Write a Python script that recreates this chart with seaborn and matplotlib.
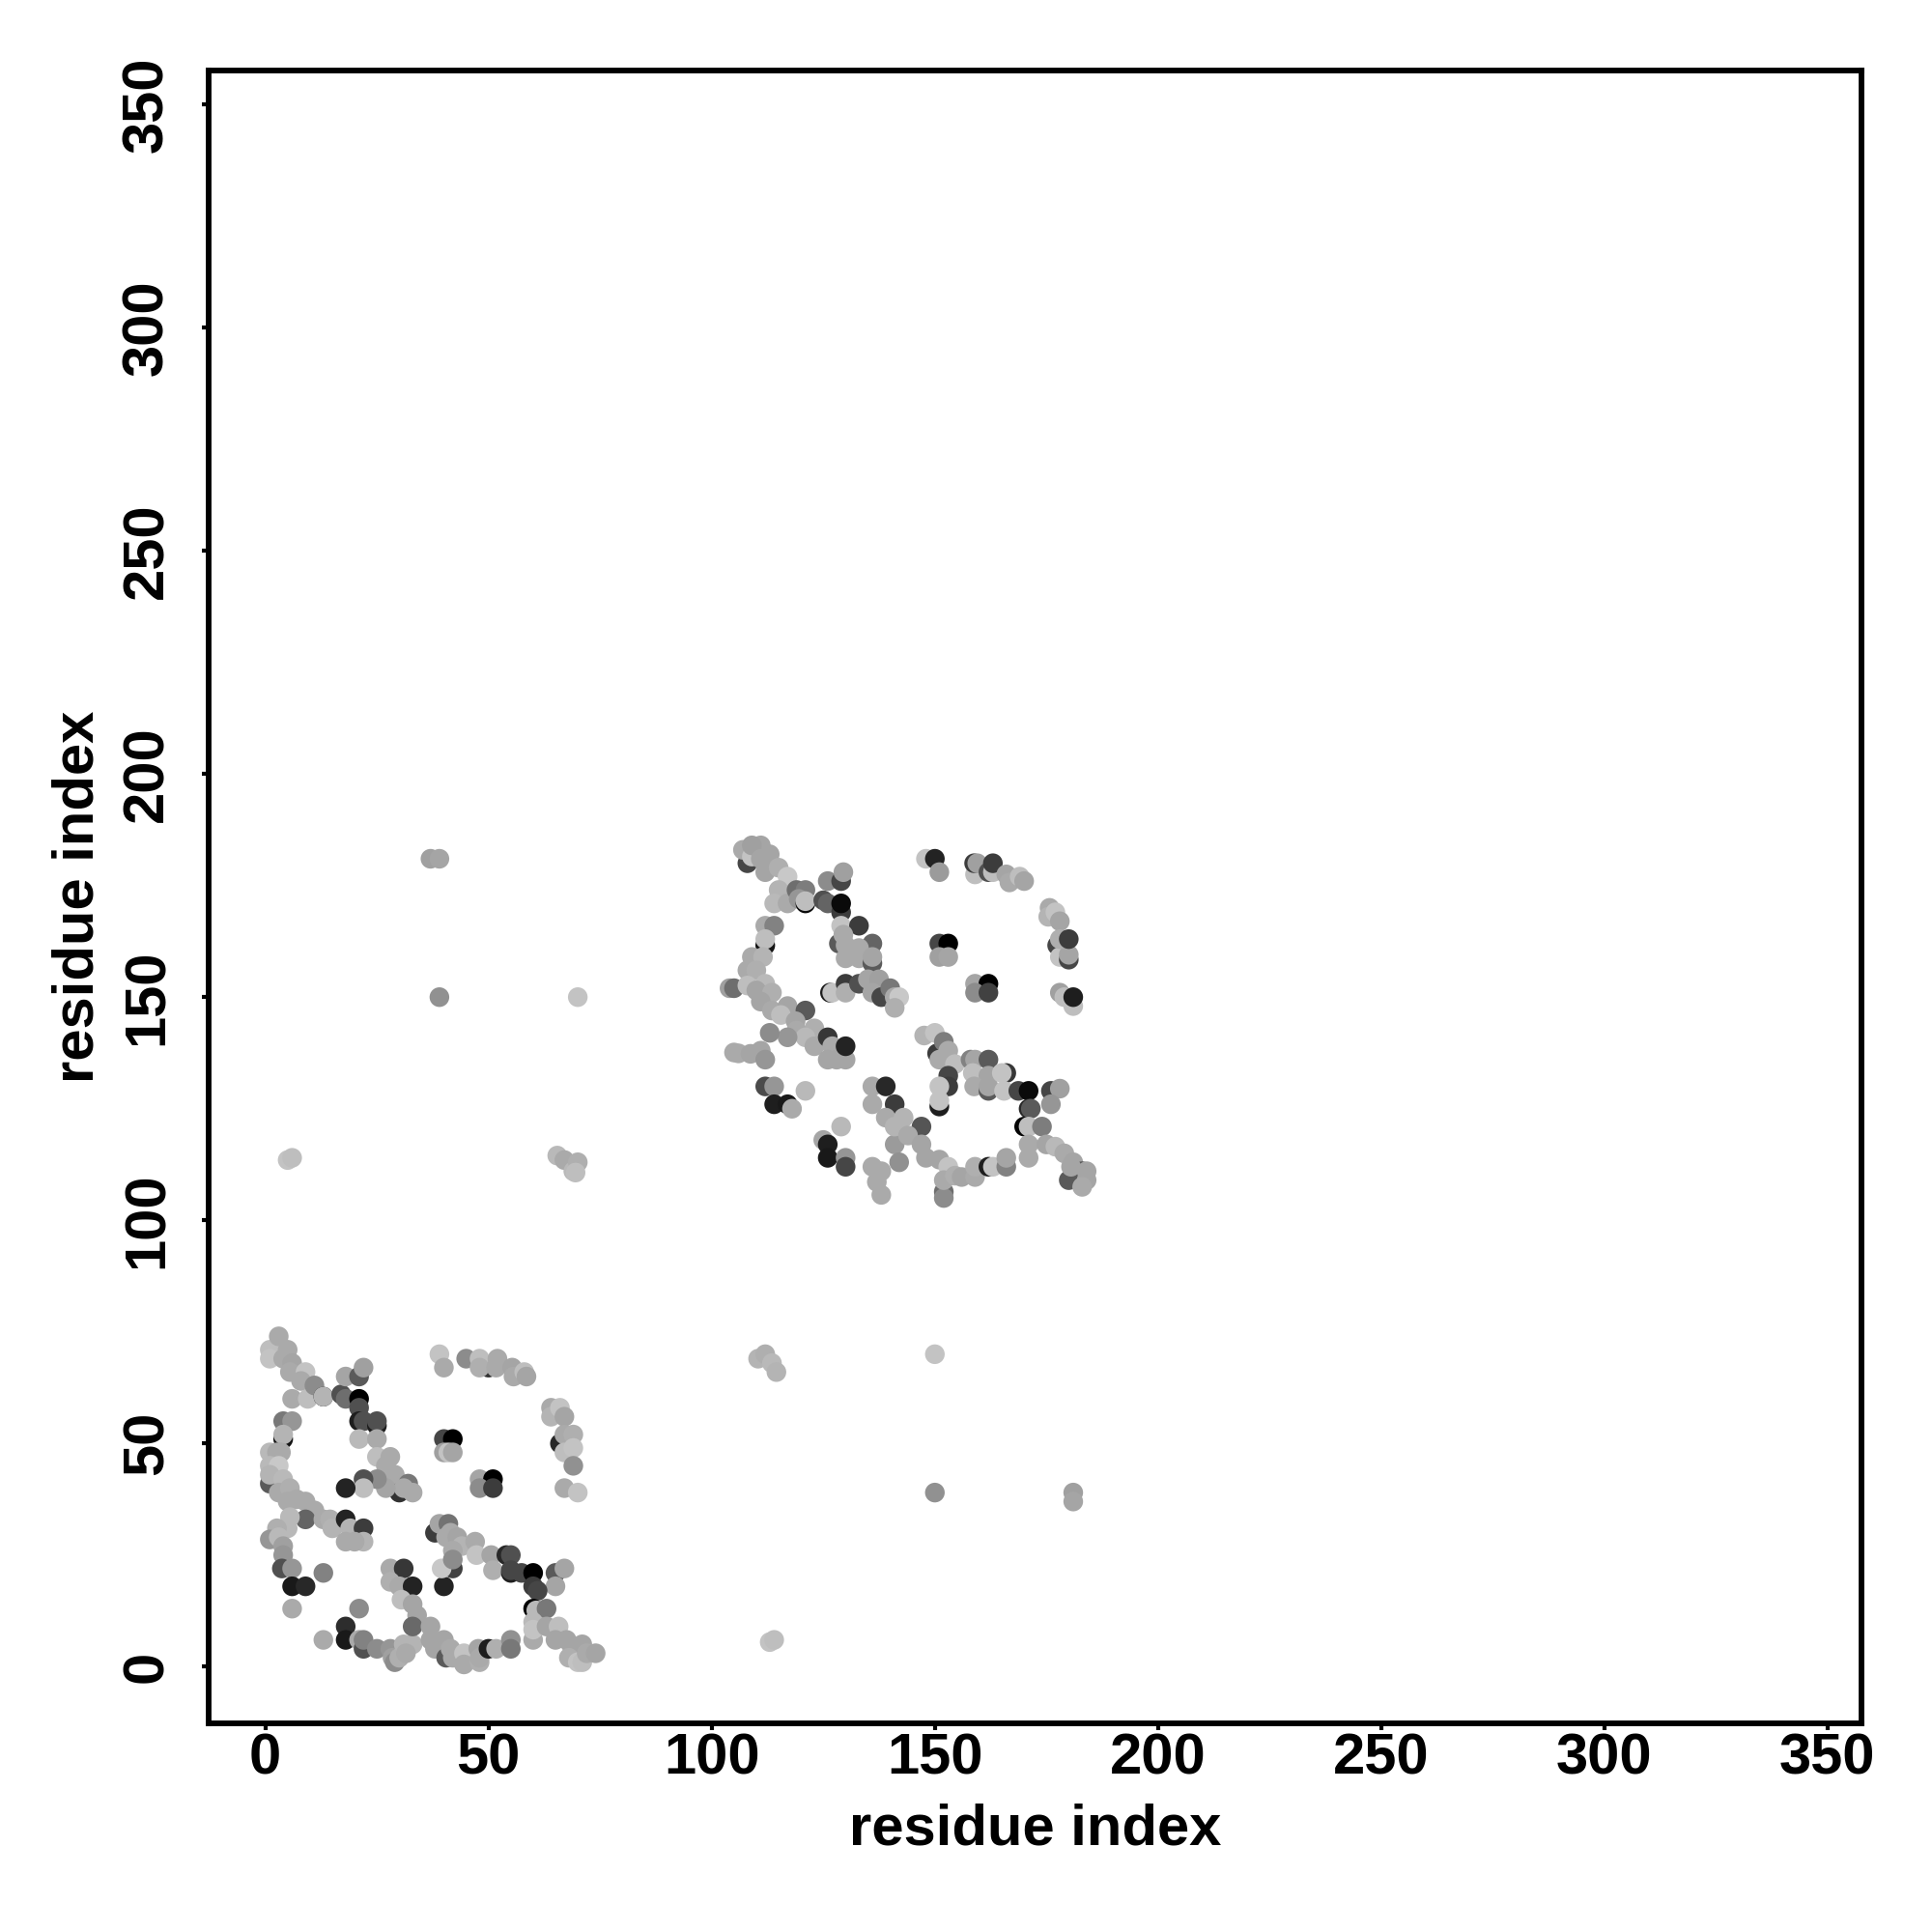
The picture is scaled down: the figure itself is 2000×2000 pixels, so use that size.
import matplotlib.pyplot as plt
import numpy as np
import seaborn as sns


# first domain against itself
LOWER_X = [1, 1, 1, 3, 5, 4, 6, 5.5, 9, 8, 6, 9.5, 11, 13, 13, 17, 18, 21, 18, 21,
           22, 21, 21, 22, 25, 25, 21, 25, 25, 28, 27, 27, 29, 32, 30, 33, 31, 27, 25, 22,
           22, 18, 4, 6, 4, 4, 1, 2.6, 3.5, 1, 3, 1, 4, 3, 5.5, 5, 9, 7, 11, 9,
           13, 14.5, 15, 18, 19, 22, 18, 22, 20, 5.5, 5, 2.6, 1, 3, 4, 4, 3.7, 6, 6, 9,
           13, 6, 21, 18, 18, 13, 21, 22, 22, 25, 28, 28.5, 29, 30, 31, 33, 31.5,
           28, 31, 28, 30, 33, 40, 42, 39.5, 30.5, 33, 34, 33, 37, 37, 40, 38, 40.5, 41.5, 42,
           44.5, 44.5, 47.7, 48, 48, 50, 51.7, 55, 55, 38, 39, 41, 41.5, 40.5, 43, 44, 47, 42,
           42, 47.3, 50.6, 51, 54, 55, 55, 55, 57.4, 60, 65, 67, 65, 60, 61, 60, 60.7, 63,
           60, 60, 60, 63, 65.7, 65, 67.5, 68.6, 71, 68, 70, 71, 72, 74,
           39, 40, 45, 50, 48, 48, 52, 51.7, 55.3, 55.6, 58, 58.5,
           66, 64, 64, 66, 67, 67, 69, 67, 69, 69, 67, 70,
           40, 42, 40, 41, 42, 48, 51, 48, 51]
LOWER_Y = [41, 71, 69, 74, 71, 69, 68, 66, 66, 64, 60, 60, 63, 60.5, 60.5, 61, 60, 60, 65, 65,
           67, 58, 55, 55, 54, 55, 51, 51, 47, 47, 45, 43, 43, 41, 39, 39, 40, 40, 42, 42,
           40, 40, 55, 55, 51, 52, 48, 48, 48, 45, 45, 43, 42, 39, 40, 37, 37, 37.5, 35, 33,
           33, 33, 31, 33, 31, 31, 28, 28, 28, 33.5, 31, 31, 28.5, 29, 27, 25, 22, 22, 18, 18,
           21, 13, 13, 9, 6, 6, 6, 4, 6, 4, 4, 2, 1, 2, 5, 5, 3,
           22, 22, 19, 18, 18, 18, 22, 22, 15, 14, 11.5, 9, 9, 6, 6, 4, 2, 4, 2,
           3, 0.5, 4, 1, 2, 4, 4, 6, 4, 30, 32, 32, 30, 29, 29, 27, 28, 26,
           24, 25, 25, 21.6, 25, 25, 21, 21.6, 21, 21, 21, 22, 18, 18, 17, 13, 12.6, 13,
           10, 6, 8.3, 9, 9, 6, 6, 4.7, 5, 2, 1, 1, 3, 3,
           70, 67, 69, 67, 69, 67, 69, 67, 67, 65, 66, 65,
           50, 58, 56, 58, 56, 52, 52, 48, 49, 45, 40, 39,
           51, 51, 48, 48, 48, 42, 42, 40, 40]
LOWER_SHADE = [90, 190, 195, 170, 170, 170, 165, 170, 195, 170, 170, 190, 140, 20, 180, 80, 110, 0, 165, 90,
               160, 80, 30, 80, 30, 80, 185, 170, 190, 170, 170, 170, 170, 120, 50, 170, 170, 165, 140, 80,
               190, 35, 120, 150, 20, 180, 185, 170, 170, 185, 200, 180, 185, 170, 175, 170, 170, 170, 170, 100,
               170, 175, 180, 35, 180, 60, 170, 180, 170, 185, 185, 175, 150, 185, 160, 150, 80, 150, 25, 40,
               130, 170, 140, 45, 25, 170, 170, 80, 130, 140, 150, 160, 140, 175, 180, 180, 170,
               170, 55, 175, 170, 35, 35, 65, 200, 190, 165, 165, 105, 165, 165, 165, 165, 90, 170, 170,
               195, 170, 165, 175, 170, 30, 175, 145, 120, 60, 165, 115, 170, 170, 165, 180, 170, 170,
               140, 195, 165, 175, 40, 80, 30, 70, 70, 0, 90, 165, 165, 60, 70, 0, 185, 120,
               185, 170, 195, 165, 190, 165, 165, 165, 165, 175, 195, 190, 170, 165,
               195, 170, 140, 50, 190, 175, 170, 170, 165, 170, 190, 165,
               40, 170, 180, 195, 165, 170, 175, 190, 195, 145, 170, 195,
               70, 0, 160, 195, 165, 165, 0, 140, 60]

# second domain against itself
UPPER_X = [108, 110, 107, 109, 111, 109, 111, 113, 112, 115, 117, 115, 114, 117, 119, 121, 119.5, 121, 121, 125,
           126, 129, 129, 126, 129, 129.5, 128.5, 129, 133, 129.5, 130, 136, 133, 130, 133, 136, 136, 126.5, 127, 130,
           130, 133, 135, 137.5, 136, 138, 140, 141, 142, 141,
           112, 114, 112, 112, 109, 111.5, 108, 110, 112, 104, 105, 108, 110, 113.5, 111, 113.5, 117, 121, 115.5, 118.8,
           123, 119, 121, 123, 117, 113, 126, 127, 126, 128, 130, 130,
           105, 106, 108.7, 111, 112, 112, 114, 114, 117, 118, 121, 129, 125, 126, 126, 130, 130,
           136, 138, 137, 138, 141, 142,
           136, 139, 136, 141, 139, 143, 141, 147, 144, 147, 148, 151, 153, 152, 152, 152, 154.5, 156, 159, 159,
           162, 163, 166, 166, 150.5, 147.6, 150, 152, 153, 151, 154.5, 153, 153, 151, 151, 151,
           158, 159, 162, 158.5, 162, 158.8, 162, 162, 166, 165, 165.5, 168.7, 171, 176, 178, 176, 171, 171.5, 170, 171,
           174, 171, 171, 175, 177, 179, 181, 180, 183, 184, 184, 183, 180.5,
           148, 150, 151, 159, 158.8, 159.5, 162, 163, 163, 166, 166.7, 169, 170,
           175.7, 175.4, 177, 178, 177.4, 178, 180, 180, 178, 180,
           178, 179, 181, 181,
           151, 153, 151, 153, 159, 162, 159, 162]
UPPER_Y = [180, 182.5, 183, 181.5, 184, 184, 181, 182, 178, 179, 177, 174, 171, 171, 174, 174, 172, 171, 171.5, 171.7,
           171, 169, 171, 176, 176, 178, 162, 166, 166, 164, 161.6, 162, 161, 158.7, 158.7, 157.6, 159, 151, 151, 153,
           151, 153, 154, 154, 151, 150, 152, 150, 150, 147.6,
           166, 166, 161.6, 163, 159, 159, 156, 156, 153, 152, 152, 152.6, 151.5, 151, 149, 147, 148, 147, 146, 144.6,
           143, 142.5, 141, 139, 141, 142, 141, 139, 136, 136, 136, 139,
           137.6, 137.4, 137.3, 138, 136, 130, 130, 126, 126, 125, 129, 121, 118, 117, 114, 114, 112,
           112, 111, 108.6, 105.7, 117, 113,
           130, 130, 126, 126, 123, 123, 121, 121, 119, 117, 114, 113.6, 112, 106.4, 105, 109, 110, 109.7, 109.7, 112,
           112, 112, 112, 114, 137.4, 141.4, 142, 140, 138, 136, 135, 132.4, 130, 130, 125.5, 126.8,
           136, 136, 136, 133, 132.4, 130, 129, 130, 133, 133, 129, 129, 129, 129, 129.5, 126, 125, 125, 121, 121,
           121, 117, 114, 117, 116.5, 115, 113, 109, 111, 111, 109, 107.5, 112,
           181, 181, 178, 177.5, 180, 180, 178, 178, 180, 177.5, 175.7, 177, 176,
           170, 168, 169, 167, 161.6, 159, 158.4, 159.5, 163, 163,
           151, 150, 148, 150,
           162, 162, 159, 159, 153, 153, 151, 151]
UPPER_SHADE = [70, 80, 170, 195, 165, 160, 165, 165, 165, 175, 200, 180, 185, 170, 110, 125, 150, 10, 190, 80,
               100, 60, 10, 140, 70, 160, 90, 195, 60, 170, 170, 100, 170, 170, 170, 90, 165, 30, 195, 60,
               175, 80, 165, 160, 165, 70, 120, 170, 200, 175,
               170, 130, 20, 190, 170, 180, 170, 175, 185, 160, 110, 190, 165, 175, 165, 170, 165, 90, 190, 165,
               175, 170, 185, 170, 150, 140, 55, 170, 165, 165, 165, 35,
               170, 170, 165, 165, 150, 75, 150, 30, 25, 170, 185, 185, 165, 30, 25, 150, 70,
               170, 170, 170, 170, 155, 145,
               170, 40, 170, 60, 170, 180, 180, 85, 170, 165, 165, 165, 195, 110, 140, 170, 175, 165, 170, 175,
               30, 195, 130, 165, 60, 180, 195, 125, 170, 170, 190, 70, 60, 195, 30, 195,
               130, 165, 90, 190, 165, 170, 90, 165, 55, 195, 195, 70, 10, 70, 160, 150, 40, 90, 5, 190,
               125, 170, 170, 165, 185, 170, 165, 90, 90, 165, 165, 170, 165,
               195, 35, 155, 190, 60, 160, 80, 190, 60, 165, 170, 190, 165,
               170, 180, 195, 165, 70, 195, 70, 165, 175, 60,
               160, 190, 190, 30,
               70, 0, 160, 165, 165, 0, 140, 65]

# the few contacts between the two domains
CROSS_X = [37, 39, 39, 70, 5, 6, 65.4, 67, 69, 70, 69.5, 110.4, 112, 113.5, 114.5, 150, 150, 181, 181, 113, 114]
CROSS_Y = [181, 181, 150, 150, 113.5, 114, 114.5, 113.5, 111, 113, 110.7, 69, 70, 68, 66, 70, 39, 39, 37, 5.5, 6]
CROSS_SHADE = [160, 165, 145, 195, 195, 190, 185, 170, 185, 175, 190, 180, 175, 185, 180, 195, 145, 160, 165, 195, 190]

TICKS = [0, 50, 100, 150, 200, 250, 300, 350]
AXIS_LABEL = "residue index"


def plot_contact_map() -> None:
    sns.set_style("ticks")
    plt.rcParams["font.family"] = ["Liberation Sans", "DejaVu Sans"]
    plt.rcParams["font.weight"] = "bold"

    x = np.array(LOWER_X + UPPER_X + CROSS_X)
    y = np.array(LOWER_Y + UPPER_Y + CROSS_Y)
    shade = np.array(LOWER_SHADE + UPPER_SHADE + CROSS_SHADE)

    fig = plt.figure(figsize=(20, 20), dpi=100)
    ax = fig.add_axes([0.108, 0.108, 0.8555, 0.8555])
    sns.scatterplot(
        x=x,
        y=y,
        hue=shade,
        palette="gray",
        hue_norm=(0, 255),
        s=215,
        linewidth=0,
        legend=False,
        ax=ax,
    )
    ax.set_xlim(-12.7, 357.6)
    ax.set_ylim(-12.7, 357.6)
    ax.set_xticks(TICKS)
    ax.set_yticks(TICKS)
    ax.tick_params(axis="x", length=5, width=3, labelsize=43, pad=2, colors="black")
    ax.tick_params(axis="y", length=5, width=3, labelsize=43, pad=20.5, colors="black")
    for label in ax.get_yticklabels():
        label.set_rotation(90)
        label.set_va("center")
    for spine in ax.spines.values():
        spine.set_visible(True)
        spine.set_linewidth(4.2)
        spine.set_color("black")
    ax.set_xlabel(AXIS_LABEL, fontsize=43, fontweight="bold", labelpad=13, color="black")
    ax.set_ylabel(AXIS_LABEL, fontsize=43, fontweight="bold", labelpad=12, color="black")
    fig.savefig("out.png", dpi=100, facecolor="white")


plot_contact_map()
